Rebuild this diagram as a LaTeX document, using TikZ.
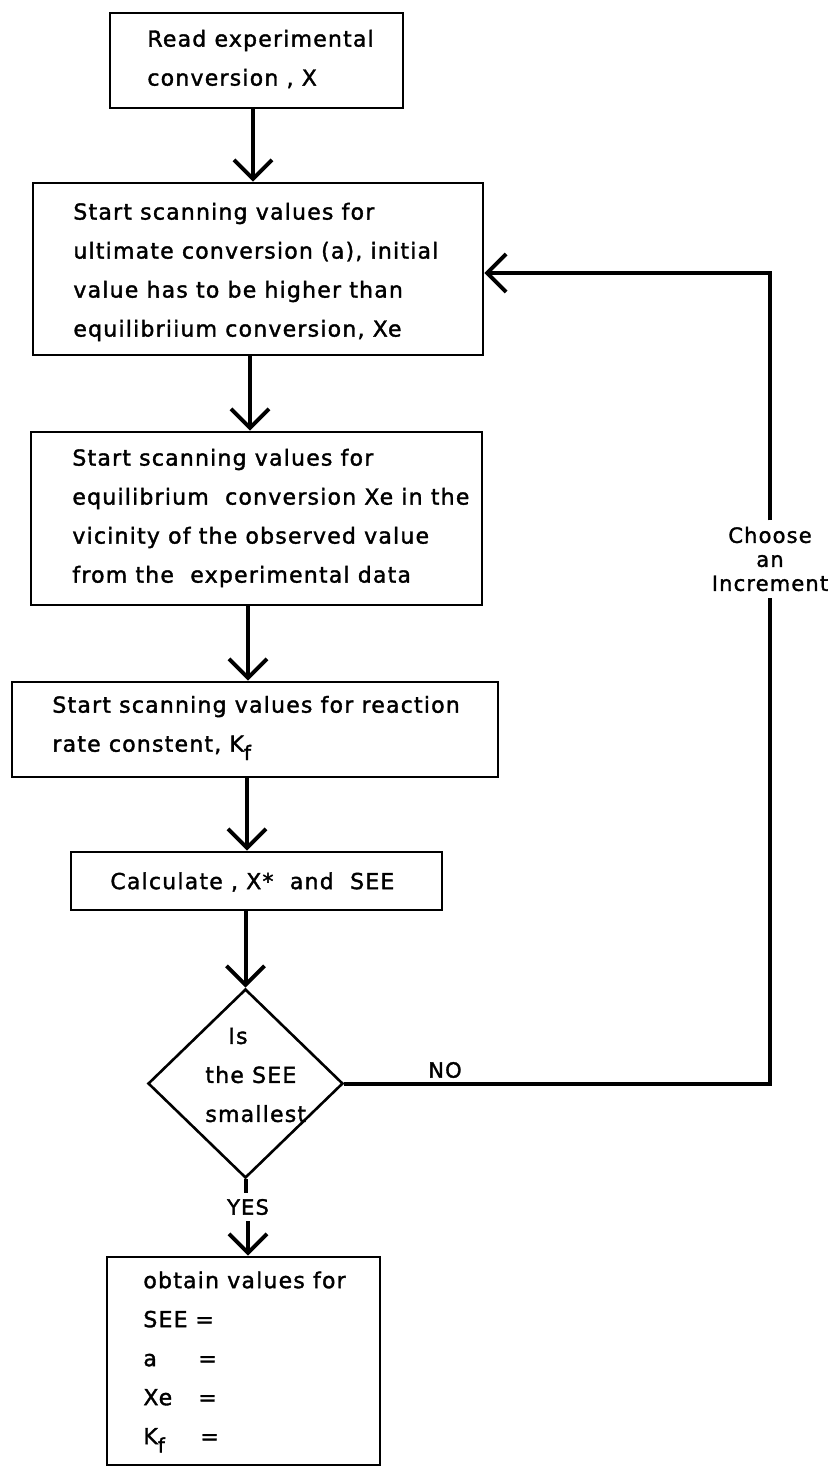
\documentclass[tikz,border=0pt]{standalone}
\usepackage{fontspec}
\setmainfont{DejaVu Sans}[LetterSpace=5.5,FakeBold=1.6]
\usetikzlibrary{arrows.meta,shapes.geometric}
\newcommand{\KfSub}{K\raisebox{-0.7ex}{\fontsize{10}{10}\selectfont f}}
\begin{document}
\begin{tikzpicture}[x=0.5pt,y=-0.5pt,
  box/.style={draw, line width=1.3pt, rectangle, inner sep=0pt},
  txt/.style={anchor=west, align=left, inner sep=0pt, font=\fontsize{11}{19.5}\selectfont},
  lbl/.style={inner sep=3pt, align=center, font=\fontsize{10.5}{12}\selectfont},
  conn/.style={line width=2pt},
  arr/.style={line width=2pt, -{Straight Barb[length=9.5pt,width=19pt]}}]
\useasboundingbox (0,0) rectangle (831,1468);

% boxes
\node[box, minimum width=146.5pt, minimum height=47.5pt] (b1) at (256.5,60.5) {};
\node[box, minimum width=225pt, minimum height=86pt] (b2) at (258,269) {};
\node[box, minimum width=225.5pt, minimum height=86.5pt] (b3) at (256.5,518.5) {};
\node[box, minimum width=243pt, minimum height=47.5pt] (b4) at (255,729.5) {};
\node[box, minimum width=185.5pt, minimum height=29pt] (b5) at (256.5,881) {};
\node[draw, diamond, line width=1.3pt, minimum width=97.5pt, minimum height=94.5pt, inner sep=0pt] (d) at (245.5,1083.5) {};
\node[box, minimum width=136.5pt, minimum height=104pt] (b6) at (243.5,1361) {};

% texts
\node[txt] (t1) at (147,59) {Read experimental\\conversion , X};
\node[txt] (t2) at (73,272) {Start scanning values for\\ultimate conversion (a), initial\\value has to be higher than\\equilibriium conversion, Xe};
\node[txt] (t3) at (72,518) {Start scanning values for\\equilibrium\ \ conversion Xe in the\\vicinity of the observed value\\from the\ \ experimental data};
\node[txt] (t4) at (52,728) {Start scanning values for reaction\\rate constent, \KfSub};
\node[txt] (t5) at (110,882) {Calculate , X*\ \ and\ \ SEE};
\node[txt] (dt) at (205,1075) {\hspace*{11.5pt}Is\\the SEE\\smallest};
\node[txt] (t6) at (143,1362) {obtain values for\\\makebox[26pt][l]{SEE}=\\\makebox[27.5pt][l]{a}=\\\makebox[27.5pt][l]{Xe}=\\\makebox[28.5pt][l]{\KfSub}=};

% labels
\node[lbl] (no) at (445,1070) {NO};
\node[lbl] (yes) at (248,1207) {YES};
\node[lbl] (ci) at (770,559) {Choose\\an\\Increment};

% connector x positions
\coordinate (a1) at (253,0);
\coordinate (a2) at (250,0);
\coordinate (a3) at (248,0);
\coordinate (a4) at (247,0);
\coordinate (ct) at (0,273);

\draw[arr] (b1.south -| a1) -- (b2.north -| a1);
\draw[arr] (b2.south -| a2) -- (b3.north -| a2);
\draw[arr] (b3.south -| a3) -- (b4.north -| a3);
\draw[arr] (b4.south -| a4) -- (b5.north -| a4);
\draw[arr] (b5.south -| d.north) -- (d.north);
\draw[conn] (d.south) -- (yes.north -| d.south);
\draw[arr] (yes.south) -- (b6.north -| yes.south);
\draw[conn] (d.east) -- (d.east -| ci.south) -- (ci.south);
\draw[arr] (ci.north) |- (b2.east |- ct);
\end{tikzpicture}
\end{document}
